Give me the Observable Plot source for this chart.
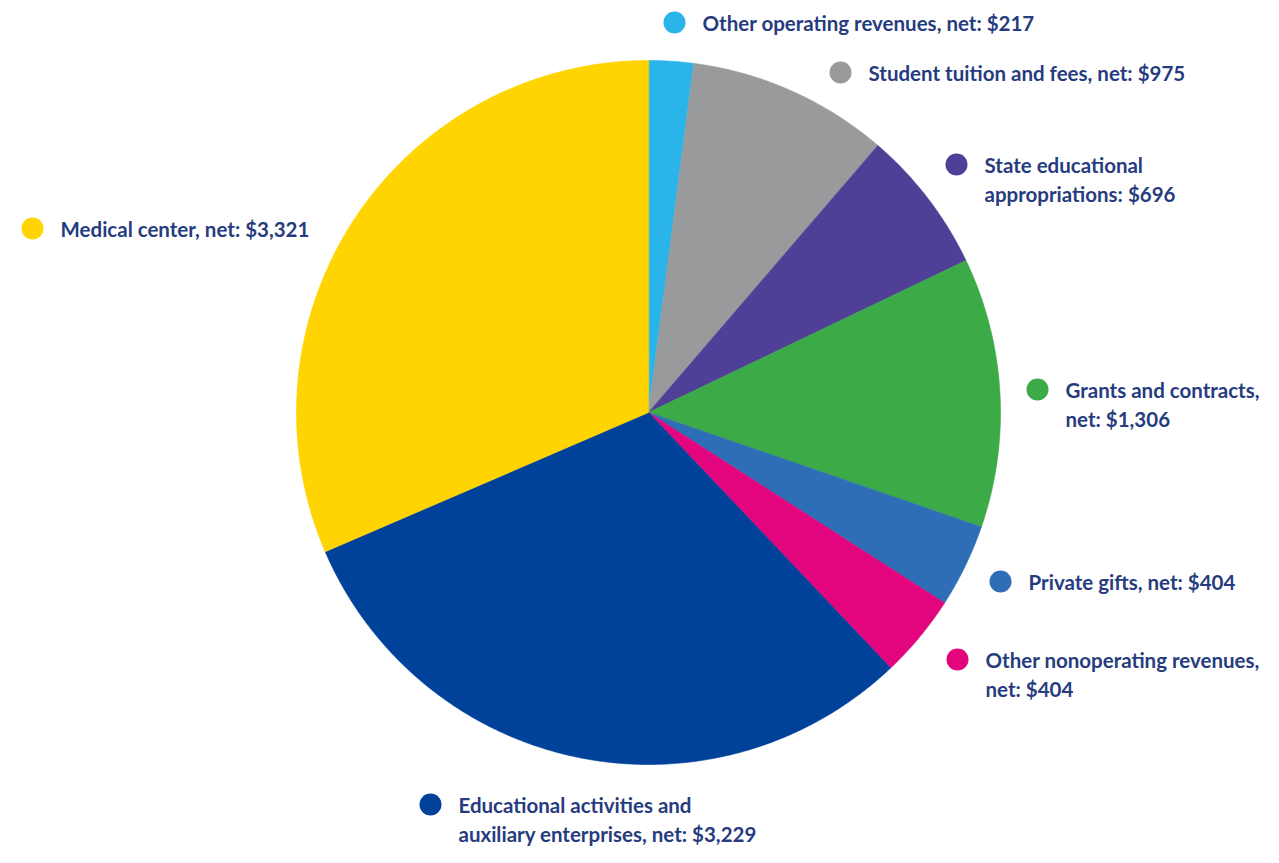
<!DOCTYPE html>
<html>
<head>
<meta charset="utf-8">
<script src="https://cdn.jsdelivr.net/npm/d3@7"></script>
<script src="https://cdn.jsdelivr.net/npm/@observablehq/plot@0.6"></script>
<style>
  html, body { margin: 0; padding: 0; background: #ffffff; }
  #chart svg { display: block; }
</style>
</head>
<body>
<div id="chart"></div>
<script>
// ---- Data (clockwise from 12 o'clock) ----
const categories = [
  "Other operating revenues, net",
  "Student tuition and fees, net",
  "State educational appropriations",
  "Grants and contracts, net",
  "Private gifts, net",
  "Other nonoperating revenues, net",
  "Educational activities and auxiliary enterprises, net",
  "Medical center, net"
];
const values = [217, 975, 696, 1306, 404, 404, 3229, 3321];
const labels = [
  "Other operating revenues, net: $217",
  "Student tuition and fees, net: $975",
  "State educational\nappropriations: $696",
  "Grants and contracts,\nnet: $1,306",
  "Private gifts, net: $404",
  "Other nonoperating revenues,\nnet: $404",
  "Educational activities and\nauxiliary enterprises, net: $3,229",
  "Medical center, net: $3,321"
];
const colors = ["#2AB4EA", "#999A9C", "#503F97", "#3BAA47", "#2E6EB6", "#E2057D", "#00419A", "#FFD400"];

// ---- Layout (pixels) ----
const W = 1279, H = 863;
const cx = 648, cy = 412, R = 352;
// legend marker positions [x, y] of each dot (first text line centred on y)
const legendDot = [[674, 22], [840, 72], [956, 164], [32, 228], [1037, 389], [1000, 581], [957, 659], [430, 804]];
const legendDotOrder = [0, 1, 2, 7, 3, 4, 5, 6]; // which category each legendDot belongs to
const textGap = 28;

// ---- Build slices ----
const total = d3.sum(values);
const slicePts = [];
let acc = 0;
values.forEach((v, i) => {
  const a0 = acc / total * 2 * Math.PI;
  acc += v;
  const a1 = acc / total * 2 * Math.PI;
  const n = Math.max(2, Math.ceil((a1 - a0) / (Math.PI / 360)));
  slicePts.push({name: categories[i], x: cx, y: cy});
  for (let k = 0; k <= n; k++) {
    const a = a0 + (a1 - a0) * k / n;
    slicePts.push({name: categories[i], x: cx + R * Math.sin(a), y: cy - R * Math.cos(a)});
  }
});

const legend = legendDotOrder.map((ci, j) => ({
  name: categories[ci],
  label: labels[ci],
  x: legendDot[j][0],
  y: legendDot[j][1]
}));

const plot = Plot.plot({
  width: W,
  height: H,
  margin: 0,
  x: {domain: [0, W], range: [0, W], axis: null},
  y: {domain: [0, H], range: [0, H], axis: null},
  color: {type: "ordinal", domain: categories, range: colors},
  style: {fontFamily: "Lato, 'Open Sans', sans-serif", background: "#ffffff"},
  marks: [
    Plot.line(slicePts, {x: "x", y: "y", z: "name", fill: "name", stroke: "name", strokeWidth: 0.6, curve: "linear-closed"}),
    Plot.dot(legend, {x: "x", y: "y", r: 11, fill: "name", stroke: null}),
    Plot.text(legend, {
      x: d => d.x + textGap,
      y: "y",
      text: "label",
      textAnchor: "start",
      lineAnchor: "top",
      dy: -11,
      fontSize: 20.5,
      fontWeight: 700,
      lineHeight: 1.37,
      fill: "#263C7E"
    })
  ]
});
document.getElementById("chart").appendChild(plot);
</script>
</body>
</html>
